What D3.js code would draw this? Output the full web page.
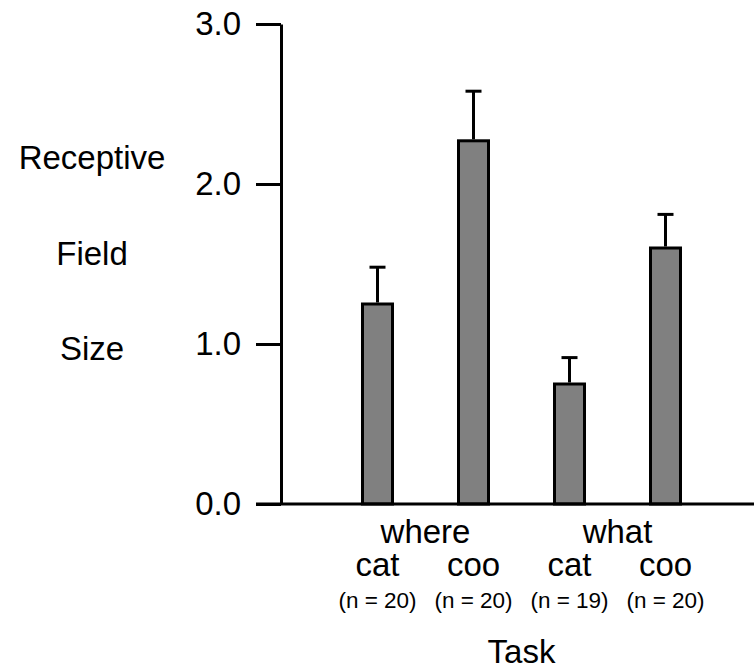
<!DOCTYPE html>
<html>
<head>
<meta charset="utf-8">
<script src="https://cdn.jsdelivr.net/npm/d3@7"></script>
<style>
  html, body { margin: 0; padding: 0; background: #fff; }
  svg { display: block; }
  text { font-family: "Liberation Sans", Arial, Helvetica, sans-serif; fill: #000; }
</style>
</head>
<body>
<svg id="chart" width="754" height="669"></svg>
<script>
// ---- data ----
const barIds      = ["where-cat", "where-coo", "what-cat", "what-coo"];
const conditions  = ["cat", "coo", "cat", "coo"];
const nLabels     = ["(n = 20)", "(n = 20)", "(n = 19)", "(n = 20)"];
const means       = [1.25, 2.27, 0.75, 1.60];
const errors      = [0.23, 0.31, 0.165, 0.21];
const taskGroups  = ["where", "what"];
const taskMembers = [["where-cat", "where-coo"], ["what-cat", "what-coo"]];
const yTicks      = [0, 1, 2, 3];
const yLabelLines = ["Receptive", "Field", "Size"];
const xTitle      = "Task";

// ---- layout ----
const FONT = "'Liberation Sans', Arial, Helvetica, sans-serif";
const svg = d3.select("#chart");
const axisX = 281, yTop = 24, yBottom = 504;

const y = d3.scaleLinear().domain([0, 3]).range([yBottom, yTop]);
const x = d3.scaleBand().domain(barIds).range([329.5, 713.5])
  .paddingInner(0.6875).paddingOuter(0.34375);
const cx = id => x(id) + x.bandwidth() / 2;

// bars
const bars = barIds.map((id, i) => ({ id, mean: means[i], err: errors[i] }));
svg.append("g").selectAll("rect").data(bars).join("rect")
  .attr("x", d => x(d.id))
  .attr("width", x.bandwidth())
  .attr("y", d => y(d.mean))
  .attr("height", d => y(0) - y(d.mean))
  .attr("fill", "#808080")
  .attr("stroke", "#000")
  .attr("stroke-width", 3);

// error bars
const eg = svg.append("g").attr("stroke", "#000").attr("stroke-width", 3);
eg.selectAll("line.v").data(bars).join("line").attr("class", "v")
  .attr("x1", d => cx(d.id)).attr("x2", d => cx(d.id))
  .attr("y1", d => y(d.mean) - 1.5).attr("y2", d => y(d.mean + d.err));
eg.selectAll("line.c").data(bars).join("line").attr("class", "c")
  .attr("x1", d => cx(d.id) - 8).attr("x2", d => cx(d.id) + 8)
  .attr("y1", d => y(d.mean + d.err)).attr("y2", d => y(d.mean + d.err));

// y axis
const yAxis = d3.axisLeft(y).tickValues(yTicks).tickFormat(d3.format(".1f"))
  .tickSize(25).tickSizeOuter(0).tickPadding(15);
const ga = svg.append("g").attr("transform", `translate(${axisX},0)`).call(yAxis);
ga.selectAll("path.domain").attr("stroke", "#000").attr("stroke-width", 3);
ga.selectAll(".tick line").attr("stroke", "#000").attr("stroke-width", 3);
ga.selectAll(".tick text").attr("font-size", 33).attr("fill", "#000")
  .attr("font-family", FONT);

// x axis baseline
svg.append("line")
  .attr("x1", axisX - 25).attr("x2", 754)
  .attr("y1", y(0)).attr("y2", y(0))
  .attr("stroke", "#000").attr("stroke-width", 3);

// x labels
svg.append("g").selectAll("text").data(taskGroups).join("text")
  .attr("x", (d, i) => d3.mean(taskMembers[i], cx))
  .attr("y", 543).attr("text-anchor", "middle").attr("font-size", 33)
  .text(d => d);
svg.append("g").selectAll("text").data(barIds).join("text")
  .attr("x", d => cx(d)).attr("y", 576).attr("text-anchor", "middle")
  .attr("font-size", 33).text((d, i) => conditions[i]);
svg.append("g").selectAll("text").data(barIds).join("text")
  .attr("x", d => cx(d)).attr("y", 608).attr("text-anchor", "middle")
  .attr("font-size", 22.5).text((d, i) => nLabels[i]);
svg.append("text")
  .attr("x", d3.mean(barIds, cx)).attr("y", 663)
  .attr("text-anchor", "middle").attr("font-size", 33).text(xTitle);

// y title (stacked words)
svg.append("g").selectAll("text").data(yLabelLines).join("text")
  .attr("x", 92).attr("y", (d, i) => 169 + i * 95.5)
  .attr("text-anchor", "middle").attr("font-size", 33).text(d => d);
</script>
</body>
</html>
